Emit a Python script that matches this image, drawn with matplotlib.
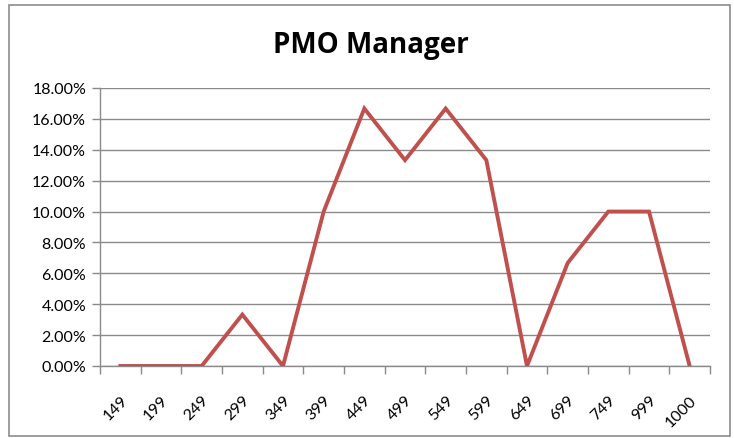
import matplotlib.pyplot as plt
from matplotlib.patches import Rectangle
from matplotlib.ticker import FixedLocator, FuncFormatter

# Data
categories = ['149', '199', '249', '299', '349', '399', '449', '499',
              '549', '599', '649', '699', '749', '999', '1000']
share = [0.0, 0.0, 0.0, 3.33, 0.0, 10.0, 16.67, 13.33,
         16.67, 13.33, 0.0, 6.67, 10.0, 10.0, 0.0]
y_ticks = [0, 2, 4, 6, 8, 10, 12, 14, 16, 18]

plt.rcParams['font.family'] = ['Lato', 'DejaVu Sans']

fig = plt.figure(figsize=(7.34, 4.39), dpi=100)
ax = fig.add_axes([100 / 734, 1 - 367 / 439, 610 / 734, 278 / 439])

# outer chart border
fig.patches.append(Rectangle((9 / 734, 1 - 437 / 439), 721 / 734, 431 / 439,
                             transform=fig.transFigure, fill=False,
                             edgecolor='#8c8c8c', linewidth=1.2))

x = list(range(len(categories)))
ax.plot(x, share, color='#C0504D', linewidth=2.8, solid_joinstyle='miter', zorder=3)

ax.set_xlim(-0.5, len(categories) - 0.5)
ax.set_ylim(0, 18)

ax.set_yticks(y_ticks)
ax.yaxis.set_major_formatter(FuncFormatter(lambda v, p: f'{v:.2f}%'))
ax.grid(axis='y', color='#8a8a8a', linewidth=1)
ax.set_axisbelow(True)

# category labels at centers, tick marks at category boundaries
ax.set_xticks(x)
ax.set_xticklabels(categories, rotation=45, ha='right', rotation_mode='anchor')
ax.xaxis.set_minor_locator(FixedLocator([i - 0.5 for i in range(len(categories) + 1)]))
ax.tick_params(axis='x', which='major', length=0, pad=19, labelsize=11.5)
ax.tick_params(axis='x', which='minor', length=6, color='#8a8a8a', width=1, direction='out')
ax.tick_params(axis='y', length=6, color='#8a8a8a', width=1, labelsize=11.5, pad=4)

for side in ['top', 'right']:
    ax.spines[side].set_visible(False)
for side in ['left', 'bottom']:
    ax.spines[side].set_color('#8a8a8a')
    ax.spines[side].set_linewidth(1)

fig.text(371 / 734, 1 - 45 / 439, 'PMO Manager', ha='center', va='center',
         fontsize=20, fontweight='bold', family=['Open Sans', 'DejaVu Sans'])

fig.savefig('out.png', dpi=100)
